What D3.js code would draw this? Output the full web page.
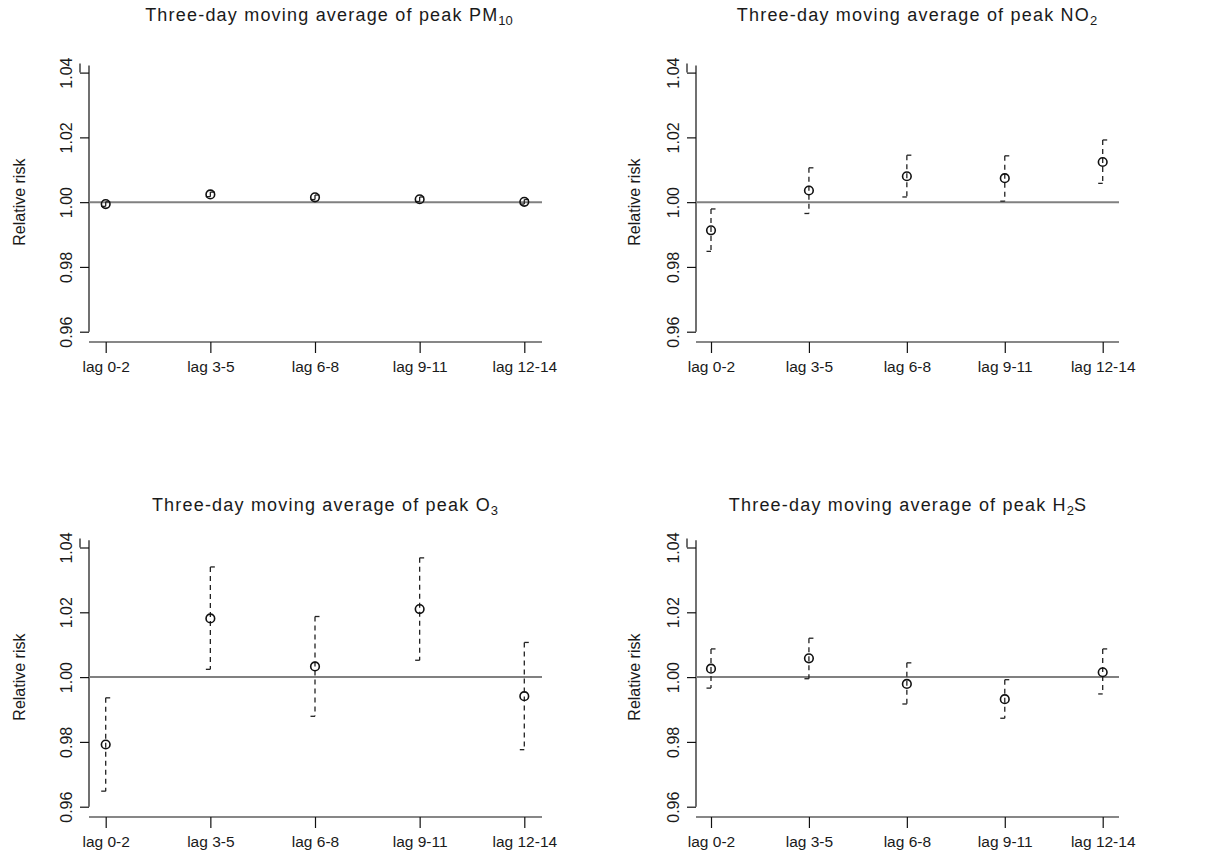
<!DOCTYPE html>
<html>
<head>
<meta charset="utf-8">
<title>Relative risk by lag</title>
<script src="https://cdn.jsdelivr.net/npm/d3@7"></script>
<style>
  body { margin: 0; background: #fff; }
  svg text { font-family: "Liberation Sans", Arial, sans-serif; fill: #1a1a1a; }
</style>
</head>
<body>
<div id="chart"></div>
<script>
// lags on the x axis
var lags = ["lag 0-2", "lag 3-5", "lag 6-8", "lag 9-11", "lag 12-14"];
var yTicks = [0.96, 0.98, 1.00, 1.02, 1.04];

// relative risk estimates with 95% limits
var pm10Est = [0.9994, 1.0024, 1.0015, 1.0009, 1.0001];
var pm10Lo  = [0.9987, 1.0017, 1.0008, 1.0002, 0.9994];
var pm10Hi  = [1.0001, 1.0031, 1.0022, 1.0016, 1.0008];

var no2Est = [0.9913, 1.0036, 1.0080, 1.0074, 1.0124];
var no2Lo  = [0.9848, 0.9965, 1.0016, 1.0003, 1.0058];
var no2Hi  = [0.9979, 1.0106, 1.0145, 1.0143, 1.0192];

var o3Est = [0.9792, 1.0181, 1.0033, 1.0210, 0.9941];
var o3Lo  = [0.9648, 1.0024, 0.9879, 1.0052, 0.9776];
var o3Hi  = [0.9936, 1.0340, 1.0187, 1.0368, 1.0107];

var h2sEst = [1.0026, 1.0058, 0.9979, 0.9932, 1.0015];
var h2sLo  = [0.9966, 0.9995, 0.9917, 0.9873, 0.9948];
var h2sHi  = [1.0087, 1.0120, 1.0044, 0.9992, 1.0087];

var width = 1219, height = 865;

var svg = d3.select("#chart").append("svg")
    .attr("width", width)
    .attr("height", height);

// panel frames (pixel layout of the 2x2 grid)
var panels = [
  {name: "PM", sub: "10", est: pm10Est, lo: pm10Lo, hi: pm10Hi,
   ax: 89, right: 542, x0: 105.7, x1: 524.3, yb: 331.7, yt: 72.6, xaxis: 342,
   titleX: 329, titleY: 21, labX: 25},
  {name: "NO", sub: "2", est: no2Est, lo: no2Lo, hi: no2Hi,
   ax: 696, right: 1119, x0: 711, x1: 1102.7, yb: 331.7, yt: 72.6, xaxis: 342,
   titleX: 917, titleY: 21, labX: 640},
  {name: "O", sub: "3", est: o3Est, lo: o3Lo, hi: o3Hi,
   ax: 89, right: 542, x0: 105.7, x1: 524.3, yb: 806.7, yt: 547.5, xaxis: 817,
   titleX: 325, titleY: 511, labX: 25},
  {name: "H", sub: "2", tail: "S", est: h2sEst, lo: h2sLo, hi: h2sHi,
   ax: 696, right: 1119, x0: 711, x1: 1102.7, yb: 806.7, yt: 547.5, xaxis: 817,
   titleX: 908, titleY: 511, labX: 640}
];

panels.forEach(function(p) {
  var g = svg.append("g");

  var x = d3.scalePoint().domain(lags).range([p.x0, p.x1]);
  var y = d3.scaleLinear().domain([0.96, 1.04]).range([p.yb, p.yt]);

  var rows = lags.map(function(l, i) {
    return {lag: l, est: p.est[i], lo: p.lo[i], hi: p.hi[i]};
  });

  // title with subscript
  var t = g.append("text")
      .attr("x", p.titleX)
      .attr("y", p.titleY)
      .attr("text-anchor", "middle")
      .style("font-size", "18px")
      .style("letter-spacing", "1.2px")
      .text("Three-day moving average of peak " + p.name);
  t.append("tspan").attr("dy", 4).style("font-size", "13px").style("letter-spacing", "0px").text(p.sub);
  if (p.tail) t.append("tspan").attr("dy", -4).text(p.tail);

  // y axis
  var yAxis = g.append("g")
      .attr("transform", "translate(" + p.ax + ",0)")
      .call(d3.axisLeft(y).tickValues(yTicks).tickFormat(d3.format(".2f")).tickSize(9));
  yAxis.select(".domain").remove();
  yAxis.selectAll(".tick line").attr("stroke", "#111").attr("stroke-width", 1.2);
  yAxis.selectAll(".tick text")
      .attr("x", null).attr("dy", null)
      .attr("transform", "translate(-17,0) rotate(-90)")
      .attr("text-anchor", "middle")
      .style("font-size", "16px");
  g.append("line")
      .attr("x1", p.ax).attr("x2", p.ax)
      .attr("y1", y(0.96)).attr("y2", y(1.0422))
      .attr("stroke", "#111").attr("stroke-width", 1.2);
  g.append("line")
      .attr("x1", p.ax - 9).attr("x2", p.ax - 9)
      .attr("y1", y(1.04)).attr("y2", y(1.0428))
      .attr("stroke", "#111").attr("stroke-width", 1.2);

  g.append("text")
      .attr("transform", "translate(" + p.labX + "," + y(1) + ") rotate(-90)")
      .attr("text-anchor", "middle")
      .style("font-size", "16px")
      .text("Relative risk");

  // x axis
  var xAxis = g.append("g")
      .attr("transform", "translate(0," + p.xaxis + ")")
      .call(d3.axisBottom(x).tickSize(11).tickPadding(8));
  xAxis.select(".domain").remove();
  xAxis.selectAll(".tick line").attr("stroke", "#111").attr("stroke-width", 1.2);
  xAxis.selectAll(".tick text").style("font-size", "15.5px");
  g.append("line")
      .attr("x1", p.ax).attr("x2", p.right)
      .attr("y1", p.xaxis).attr("y2", p.xaxis)
      .attr("stroke", "#111").attr("stroke-width", 1.2);

  // reference line at RR = 1
  g.append("line")
      .attr("x1", p.ax).attr("x2", p.right)
      .attr("y1", y(1)).attr("y2", y(1))
      .attr("stroke", "#808080").attr("stroke-width", 2);

  // confidence intervals
  var ci = g.selectAll(".ci").data(rows).enter().append("g").attr("class", "ci");
  ci.append("line")
      .attr("x1", function(d) { return x(d.lag); })
      .attr("x2", function(d) { return x(d.lag); })
      .attr("y1", function(d) { return y(d.hi); })
      .attr("y2", function(d) { return y(d.lo); })
      .attr("stroke", "#222").attr("stroke-width", 1.3)
      .attr("stroke-dasharray", "5,4");
  ci.append("line")
      .attr("x1", function(d) { return x(d.lag); })
      .attr("x2", function(d) { return x(d.lag) + 4.5; })
      .attr("y1", function(d) { return y(d.hi); })
      .attr("y2", function(d) { return y(d.hi); })
      .attr("stroke", "#222").attr("stroke-width", 1.3);
  ci.append("line")
      .attr("x1", function(d) { return x(d.lag) - 4.5; })
      .attr("x2", function(d) { return x(d.lag); })
      .attr("y1", function(d) { return y(d.lo); })
      .attr("y2", function(d) { return y(d.lo); })
      .attr("stroke", "#222").attr("stroke-width", 1.3);

  // point estimates
  g.selectAll(".pt").data(rows).enter().append("circle")
      .attr("class", "pt")
      .attr("cx", function(d) { return x(d.lag); })
      .attr("cy", function(d) { return y(d.est); })
      .attr("r", 4.3)
      .attr("fill", "none")
      .attr("stroke", "#111")
      .attr("stroke-width", 1.6);
});
</script>
</body>
</html>
